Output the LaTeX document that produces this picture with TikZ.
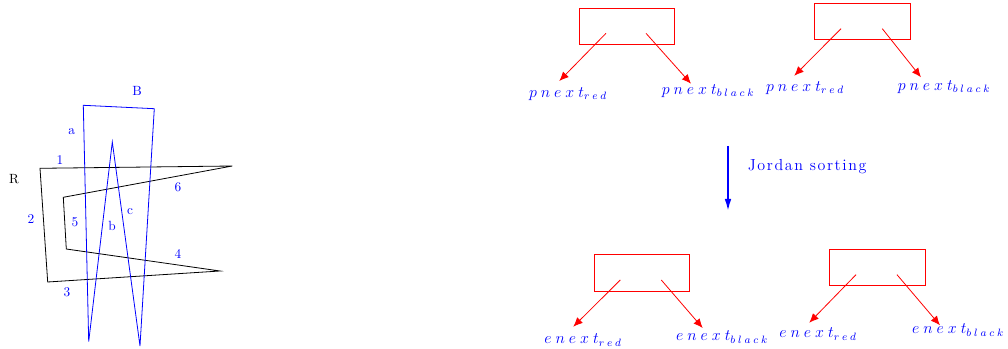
\documentclass[tikz,border=0pt]{standalone}
\usepackage{fontspec}
\usetikzlibrary{arrows.meta}
\newcommand{\ks}{\mkern4.5mu}
\newfontfamily\spaced[LetterSpace=10]{Latin Modern Roman}
\tikzset{
  poly/.style={line width=0.6pt, line join=miter},
  box/.style={draw=red, line width=0.6pt, fill=none},
  redarr/.style={red, line width=0.6pt, -{Latex[length=7pt,width=6pt]}},
  bluelab/.style={text=blue, inner sep=0pt},
  mathlab/.style={text=blue, inner sep=0pt, font=\large},
}
\begin{document}
\begin{tikzpicture}[x=0.75pt,y=-0.75pt]
\useasboundingbox (0,0) rectangle (1008,349);
% ---- R polygon
\coordinate (r1) at (40,168.3);
\coordinate (r2) at (232.3,166);
\coordinate (r3) at (63.3,197.3);
\coordinate (r4) at (66.3,249);
\coordinate (r5) at (220,271);
\coordinate (r6) at (47.7,282);
\draw[poly, black] (r1) -- (r2) -- (r3) -- (r4) -- (r5) -- (r6) -- cycle;
% ---- B polygon
\coordinate (b1) at (83.3,105.3);
\coordinate (b2) at (154.3,108.7);
\coordinate (b3) at (140,346);
\coordinate (b4) at (112.3,142);
\coordinate (b5) at (88.7,341.7);
\draw[poly, blue] (b1) -- (b2) -- (b3) -- (b4) -- (b5) -- cycle;
% ---- labels left
\node[inner sep=0pt] (lR) at (14,179) {R};
\node[bluelab] (lB) at (137,91) {B};
\node[bluelab] (la) at (71.7,131.5) {a};
\node[bluelab] (lb) at (112,225.7) {b};
\node[bluelab] (lc) at (130,211.5) {c};
\node[bluelab] (l1) at (60,160) {1};
\node[bluelab] (l2) at (31,219) {2};
\node[bluelab] (l3) at (67,292) {3};
\node[bluelab] (l4) at (178,254) {4};
\node[bluelab] (l5) at (75,222) {5};
\node[bluelab] (l6) at (178,187) {6};
% ---- top boxes
\draw[box] (579,8) rectangle (674.3,44.3);
\draw[box] (814.3,3.3) rectangle (910,39.3);
\coordinate (s1) at (606,33.3);
\coordinate (s2) at (646,33.3);
\coordinate (s3) at (841,28.7);
\coordinate (s4) at (882.3,28.7);
\coordinate (t1) at (559.3,81);
\coordinate (t2) at (691,83.7);
\coordinate (t3) at (794.3,75.7);
\coordinate (t4) at (921,77.3);
\draw[redarr] (s1) -- (t1);
\draw[redarr] (s2) -- (t2);
\draw[redarr] (s3) -- (t3);
\draw[redarr] (s4) -- (t4);
\node[mathlab] (p1) at (568,94) {$p\ks n\ks e\ks x\ks t_{r\ks e\ks d}$};
\node[mathlab] (p2) at (708,91) {$p\ks n\ks e\ks x\ks t_{b\ks l\ks a\ks c\ks k}$};
\node[mathlab] (p3) at (805,88) {$p\ks n\ks e\ks x\ks t_{r\ks e\ks d}$};
\node[mathlab] (p4) at (944,87) {$p\ks n\ks e\ks x\ks t_{b\ks l\ks a\ks c\ks k}$};
% ---- Jordan arrow
\coordinate (j1) at (728,146);
\coordinate (j2) at (728,211);
\draw[blue, line width=1.3pt, -{Latex[length=9pt,width=5pt]}] (j1) -- (j2);
\node[bluelab, anchor=west] (jl) at (747.5,166.5) {\spaced\large Jordan sorting};
% ---- bottom boxes
\draw[box] (594,254.3) rectangle (689.3,291);
\draw[box] (829.7,249.3) rectangle (925.3,285.7);
\coordinate (u1) at (620.3,280);
\coordinate (u2) at (661.3,280);
\coordinate (u3) at (856,274.7);
\coordinate (u4) at (897,274.7);
\coordinate (v1) at (573.3,326.7);
\coordinate (v2) at (702.7,328);
\coordinate (v3) at (809.3,322.7);
\coordinate (v4) at (940,325.3);
\draw[redarr] (u1) -- (v1);
\draw[redarr] (u2) -- (v2);
\draw[redarr] (u3) -- (v3);
\draw[redarr] (u4) -- (v4);
\node[mathlab] (e1) at (583,340) {$e\ks n\ks e\ks x\ks t_{r\ks e\ks d}$};
\node[mathlab] (e2) at (722,337) {$e\ks n\ks e\ks x\ks t_{b\ks l\ks a\ks c\ks k}$};
\node[mathlab] (e3) at (818,334) {$e\ks n\ks e\ks x\ks t_{r\ks e\ks d}$};
\node[mathlab] (e4) at (958,330) {$e\ks n\ks e\ks x\ks t_{b\ks l\ks a\ks c\ks k}$};
\end{tikzpicture}
\end{document}
